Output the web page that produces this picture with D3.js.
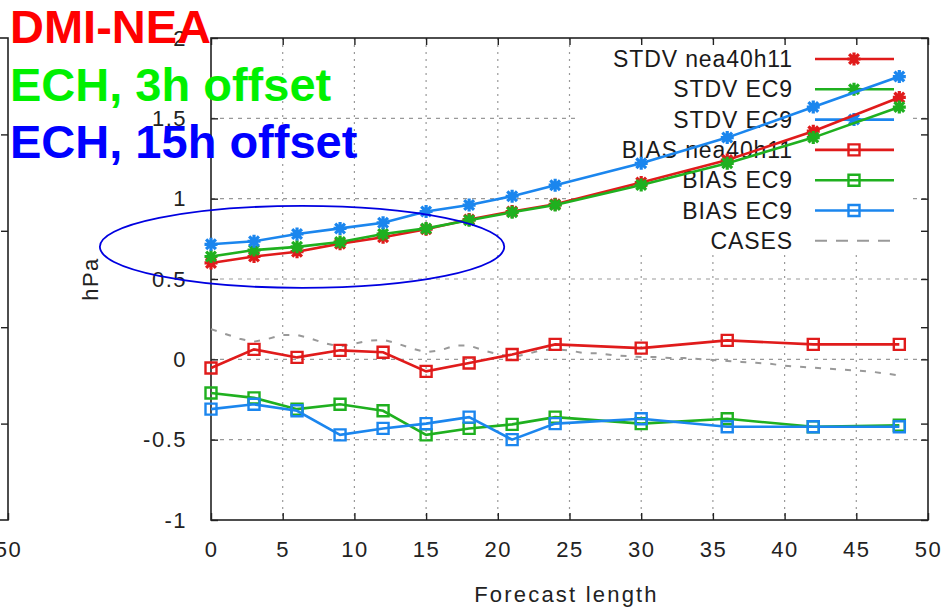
<!DOCTYPE html>
<html>
<head>
<meta charset="utf-8">
<script src="https://cdn.jsdelivr.net/npm/d3@7"></script>
<style>
  body { margin: 0; background: #fff; }
  #chart { width: 944px; height: 607px; overflow: hidden; }
  text { font-family: "Liberation Sans", Arial, sans-serif; }
</style>
</head>
<body>
<div id="chart"></div>
<script>
// forecast lengths (h)
var hours = [0, 3, 6, 9, 12, 15, 18, 21, 24, 30, 36, 42, 48];

// standard deviation (hPa)
var stdvNea = [0.60, 0.64, 0.67, 0.72, 0.76, 0.81, 0.87, 0.92, 0.965, 1.10, 1.24, 1.42, 1.63];
var stdvEc9Green = [0.64, 0.68, 0.70, 0.73, 0.78, 0.815, 0.866, 0.915, 0.96, 1.085, 1.22, 1.38, 1.57];
var stdvEc9Blue = [0.716, 0.735, 0.78, 0.815, 0.85, 0.92, 0.96, 1.015, 1.084, 1.22, 1.38, 1.57, 1.76];

// bias (hPa)
var biasNea = [-0.054, 0.062, 0.012, 0.056, 0.044, -0.075, -0.023, 0.03, 0.093, 0.07, 0.118, 0.093, 0.093];
var biasEc9Green = [-0.21, -0.24, -0.31, -0.28, -0.32, -0.47, -0.43, -0.405, -0.36, -0.40, -0.37, -0.42, -0.41];
var biasEc9Blue = [-0.31, -0.28, -0.32, -0.47, -0.43, -0.40, -0.36, -0.50, -0.40, -0.37, -0.42, -0.42, -0.42];

// number of cases, hourly (right axis)
var caseHours = [0, 1, 2, 3, 4, 5, 6, 7, 8, 9, 10, 11, 12, 13, 14, 15, 16, 17, 18, 19, 20, 21, 22, 23, 24,
                 25, 26, 27, 28, 29, 30, 31, 32, 33, 34, 35, 36, 37, 38, 39, 40, 41, 42, 43, 44, 45, 46, 47, 48];
var cases = [198, 193, 188, 185, 188, 192, 192, 188, 183, 180, 183, 186, 187, 183, 178, 174, 176, 181, 181, 176,
             172, 169, 172, 176, 177, 176, 173, 173, 171, 170, 169, 169, 168, 168, 167, 166, 165, 164, 163, 162,
             160, 159, 158, 157, 156, 155, 154, 152, 150];

var legendLabels = ["STDV nea40h11", "STDV EC9", "STDV EC9", "BIAS nea40h11", "BIAS EC9", "BIAS EC9", "CASES"];
var xTicks = [0, 5, 10, 15, 20, 25, 30, 35, 40, 45, 50];
var yTicks = [-1, -0.5, 0, 0.5, 1, 1.5, 2];
var y2Ticks = [100, 200, 300, 400];
// only the last tick of the neighbouring panel is in view
var leftPanelTicks = [50];

var overlayLabels = ["DMI-NEA", "ECH, 3h offset", "ECH, 15h offset"];
var overlayColors = ["#ff0000", "#00f000", "#0000ff"];

// hand drawn ellipse round the short range stdv (hours, hPa)
var ellipseCentre = [6.35, 0.70];
var ellipseRadius = [14.1, 0.255];

var red = "#e01b1b", green = "#1fb01f", blue = "#1b86ee";

document.addEventListener('DOMContentLoaded', function() {
    drawChart()
}, false);

function starPath(s) {
    var d = s * 0.75;
    return "M" + (-s) + ",0H" + s + "M0," + (-s) + "V" + s +
           "M" + (-d) + "," + (-d) + "L" + d + "," + d +
           "M" + (-d) + "," + d + "L" + d + "," + (-d);
}

function drawChart() {
    var margin = {top: 38, right: 16, bottom: 87, left: 211};
    var width = 944 - margin.left - margin.right;
    var height = 607 - margin.top - margin.bottom;

    var root = d3.select("#chart")
      .append("svg")
        .attr("width", 944)
        .attr("height", 607);

    var svg = root.append("g")
        .attr("transform", "translate(" + margin.left + "," + margin.top + ")");

    var x = d3.scaleLinear().domain([0, 50]).range([0, width]);
    var y = d3.scaleLinear().domain([-1, 2]).range([height, 0]);
    var y2 = d3.scaleLinear().domain([0, 500]).range([height, 0]);

    var series = [
        {values: stdvNea, color: red, marker: "star"},
        {values: stdvEc9Green, color: green, marker: "star"},
        {values: stdvEc9Blue, color: blue, marker: "star"},
        {values: biasNea, color: red, marker: "square"},
        {values: biasEc9Green, color: green, marker: "square"},
        {values: biasEc9Blue, color: blue, marker: "square"}
    ];

    // grid
    svg.append("g").selectAll("line")
      .data(xTicks.filter(function(d) { return d > 0 && d < 50; }))
      .enter().append("line")
        .attr("x1", function(d) { return x(d); })
        .attr("x2", function(d) { return x(d); })
        .attr("y1", 0).attr("y2", height)
        .attr("stroke", "#999").attr("stroke-width", 1.2)
        .attr("stroke-dasharray", "2,5");
    svg.append("g").selectAll("line")
      .data(yTicks.filter(function(d) { return d > -1 && d < 2; }))
      .enter().append("line")
        .attr("x1", 0).attr("x2", width)
        .attr("y1", function(d) { return y(d); })
        .attr("y2", function(d) { return y(d); })
        .attr("stroke", "#999").attr("stroke-width", 1.2)
        .attr("stroke-dasharray", "4,5");

    // opaque key box
    svg.append("rect")
        .attr("x", 366).attr("y", 4)
        .attr("width", 333).attr("height", 212)
        .attr("fill", "#fff");

    // axes, ticks pointing inward
    var fmt = function(d) { return String(d); };
    function styleAxis(g) {
        g.select(".domain").remove();
        g.selectAll("line").attr("stroke", "#222").attr("stroke-width", 1.4);
        g.selectAll("text")
          .attr("fill", "#222")
          .style("font-size", "22px")
          .style("letter-spacing", "1.5px");
    }
    svg.append("g")
        .call(d3.axisLeft(y).tickValues(yTicks).tickSize(-7).tickPadding(24).tickFormat(fmt))
        .call(styleAxis);
    svg.append("g")
        .attr("transform", "translate(0," + height + ")")
        .call(d3.axisBottom(x).tickValues(xTicks).tickSize(-7).tickPadding(21).tickFormat(fmt))
        .call(styleAxis);
    svg.append("g")
        .call(d3.axisTop(x).tickValues(xTicks).tickSize(-7).tickFormat(""))
        .call(styleAxis);
    svg.append("g")
        .attr("transform", "translate(" + width + ",0)")
        .call(d3.axisRight(y).tickValues(yTicks).tickSize(-7).tickFormat(""))
        .call(styleAxis);
    svg.append("g")
        .attr("transform", "translate(" + width + ",0)")
        .call(d3.axisRight(y2).tickValues(y2Ticks).tickSize(-7).tickFormat(""))
        .call(styleAxis);

    // frame
    svg.append("rect")
        .attr("width", width).attr("height", height)
        .attr("fill", "none").attr("stroke", "#222").attr("stroke-width", 1.6);

    // neighbouring panel, only its right edge is in view
    var left = svg.append("g").attr("transform", "translate(-203,0)");
    var leftX = d3.scaleLinear().domain([0, 50]).range([-width, 0]);
    left.append("rect")
        .attr("x", -width).attr("width", width).attr("height", height)
        .attr("fill", "none").attr("stroke", "#222").attr("stroke-width", 1.6);
    left.append("g")
        .attr("transform", "translate(0," + height + ")")
        .call(d3.axisBottom(leftX).tickValues(leftPanelTicks).tickSize(-7).tickPadding(21).tickFormat(fmt))
        .call(styleAxis);
    left.append("g")
        .call(d3.axisRight(y2).tickValues(y2Ticks).tickSize(-7).tickFormat(""))
        .call(styleAxis);

    // axis titles
    svg.append("text")
        .attr("transform", "translate(-113," + (height / 2) + ")rotate(-90)")
        .attr("text-anchor", "middle")
        .attr("fill", "#222")
        .style("font-size", "22px")
        .style("letter-spacing", "1.5px")
        .text("hPa");
    svg.append("text")
        .attr("x", width / 2 - 3)
        .attr("y", height + 82)
        .attr("text-anchor", "middle")
        .attr("fill", "#222")
        .style("font-size", "22px")
        .style("letter-spacing", "2.2px")
        .text("Forecast length");

    // key
    var key = svg.append("g");
    var keyRows = legendLabels.map(function(label, i) {
        return {label: label, s: series[i], row: i};
    });
    var keyItem = key.selectAll("g")
      .data(keyRows)
      .enter().append("g")
        .attr("transform", function(d) { return "translate(0," + (21 + d.row * 30.3) + ")"; });
    keyItem.append("text")
        .attr("x", 582)
        .attr("dy", "0.35em")
        .attr("text-anchor", "end")
        .attr("fill", "#1a1a1a")
        .style("font-size", "23px")
        .style("letter-spacing", "0.9px")
        .text(function(d) { return d.label; });
    keyItem.append("line")
        .attr("x1", 604).attr("x2", 683)
        .attr("stroke", function(d) { return d.s ? d.s.color : "#999"; })
        .attr("stroke-width", function(d) { return d.s ? 2.6 : 2; })
        .attr("stroke-dasharray", function(d) { return d.s ? null : "12,9"; });
    keyItem.filter(function(d) { return d.s; })
      .append("path")
        .attr("transform", "translate(643,0)")
        .attr("d", function(d) { return d.s.marker == "star" ? starPath(6.5) : "M-5.5,-5.5h11v11h-11Z"; })
        .attr("fill", "none")
        .attr("stroke", function(d) { return d.s.color; })
        .attr("stroke-width", function(d) { return d.s.marker == "star" ? 3.2 : 2.4; });

    // cases on the right axis
    svg.append("path")
        .datum(caseHours)
        .attr("fill", "none")
        .attr("stroke", "#999")
        .attr("stroke-width", 2)
        .attr("stroke-dasharray", "6,9")
        .attr("d", d3.line()
            .x(function(h) { return x(h); })
            .y(function(h, i) { return y2(cases[i]); }));

    // stdv and bias lines with markers
    var line = d3.line()
        .x(function(v, i) { return x(hours[i]); })
        .y(function(v) { return y(v); });

    var seriesG = svg.selectAll(".series")
      .data(series)
      .enter().append("g")
        .attr("class", "series");
    seriesG.append("path")
        .attr("fill", "none")
        .attr("stroke", function(d) { return d.color; })
        .attr("stroke-width", 2.6)
        .attr("d", function(d) { return line(d.values); });
    seriesG.each(function(s) {
        d3.select(this).selectAll(".mk")
          .data(s.values)
          .enter().append("path")
            .attr("class", "mk")
            .attr("transform", function(v, i) { return "translate(" + x(hours[i]) + "," + y(v) + ")"; })
            .attr("d", s.marker == "star" ? starPath(6.5) : "M-5.5,-5.5h11v11h-11Z")
            .attr("fill", "none")
            .attr("stroke", s.color)
            .attr("stroke-width", s.marker == "star" ? 3.2 : 2.4);
    });

    // annotation ellipse
    svg.append("ellipse")
        .attr("cx", x(ellipseCentre[0]))
        .attr("cy", y(ellipseCentre[1]))
        .attr("rx", x(ellipseRadius[0]) - x(0))
        .attr("ry", y(0) - y(ellipseRadius[1]))
        .attr("fill", "none")
        .attr("stroke", "#0000e0")
        .attr("stroke-width", 1.8);

    // big coloured labels pasted over the plot
    root.append("g").selectAll("text")
      .data(overlayLabels)
      .enter().append("text")
        .attr("x", 10)
        .attr("y", function(d, i) { return 43 + i * 57.5; })
        .attr("fill", function(d, i) { return overlayColors[i]; })
        .style("font-size", "47px")
        .style("font-weight", "bold")
        .text(function(d) { return d; });
}
</script>
</body>
</html>
